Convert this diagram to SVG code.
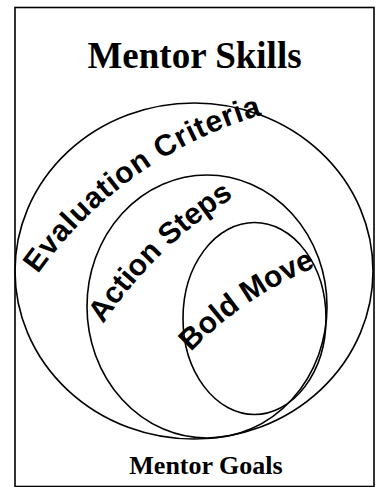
<svg xmlns="http://www.w3.org/2000/svg" width="377" height="487" viewBox="0 0 377 487">
<style>
.shape{fill:none;stroke:#000;stroke-width:1.6}
.title{font-family:"Liberation Serif","Times New Roman",serif;font-weight:bold;fill:#000;text-anchor:middle}
.arc{font-family:"Liberation Sans",Arial,sans-serif;font-weight:bold;font-size:30px;fill:#000}
</style>
<defs>
<path id="p1" d="M38,274 A420,420 0 0,1 280,110"/>
<path id="p2" d="M103,324 A450,450 0 0,1 245,190"/>
<path id="p3" d="M191,352 A350,350 0 0,1 330,262"/>
</defs>
<rect x="15" y="7.5" width="359" height="479" fill="#fff" stroke="#000" stroke-width="1.6"/>
<g id="title"><text class="title" x="194.5" y="68" font-size="37">Mentor Skills</text></g>
<g id="evaluation-criteria">
<ellipse class="shape" cx="194" cy="271" rx="179" ry="168"/>
<text class="arc" letter-spacing="0.8"><textPath href="#p1">Evaluation Criteria</textPath></text>
</g>
<g id="action-steps">
<ellipse class="shape" cx="207" cy="306.5" rx="120" ry="131.5"/>
<text class="arc"><textPath href="#p2">Action Steps</textPath></text>
</g>
<g id="bold-move">
<ellipse class="shape" cx="254.5" cy="318.5" rx="71.5" ry="96"/>
<text class="arc"><textPath href="#p3">Bold Move</textPath></text>
</g>
<g id="connectors"/>
<g id="footer"><text class="title" x="206" y="474" font-size="26">Mentor Goals</text></g>
</svg>
